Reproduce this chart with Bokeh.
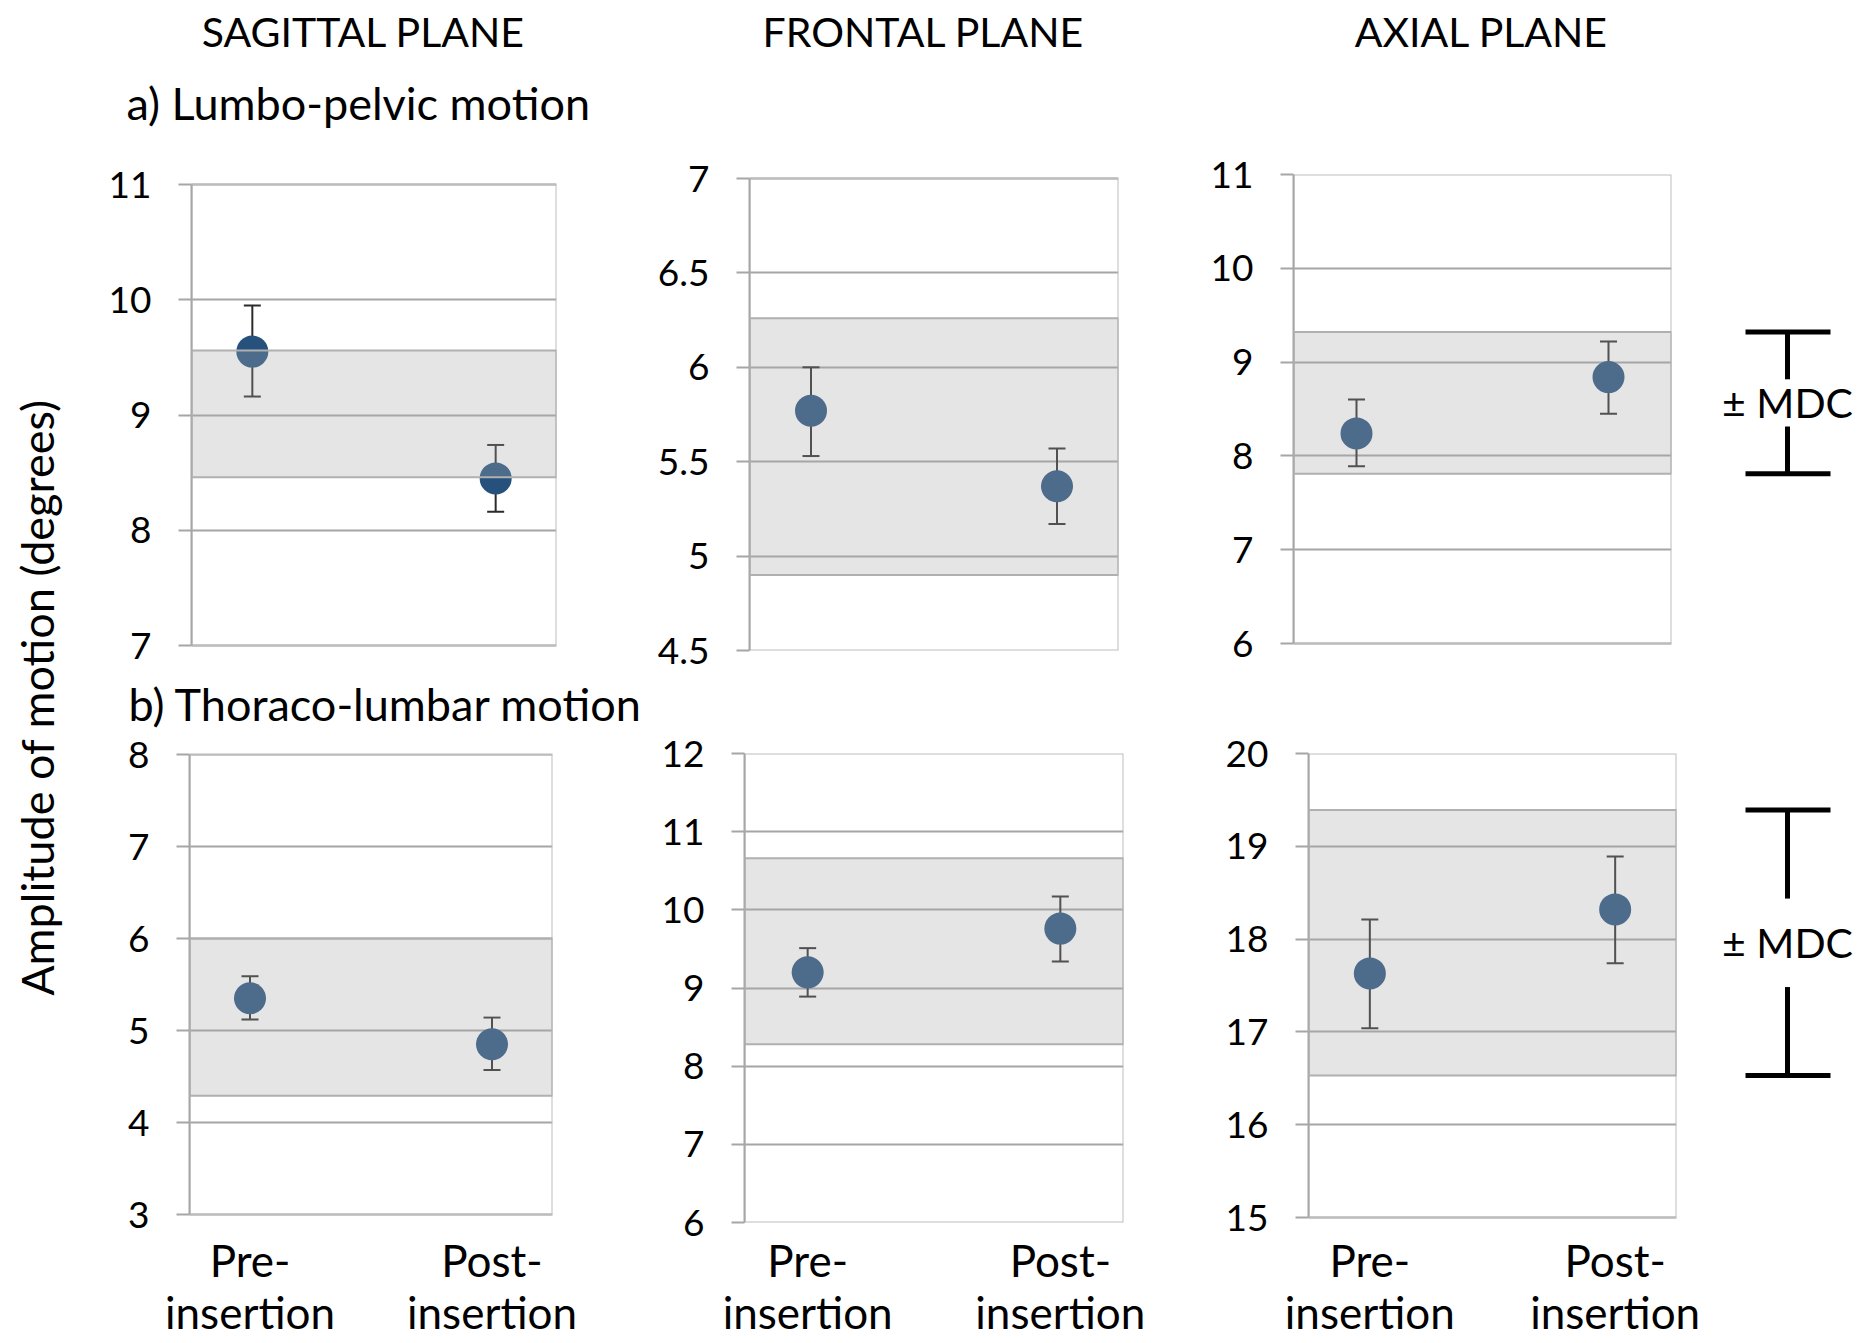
import math
from bokeh.plotting import figure
from bokeh.layouts import row, column
from bokeh.models import (FactorRange, Range1d, FixedTicker, BoxAnnotation,
                          ColumnDataSource, NumeralTickFormatter)
from bokeh.embed import file_html
from bokeh.resources import INLINE
from bokeh.core.properties import value

FONT = "Lato"

# ---------------- texts ----------------
column_titles = ["SAGITTAL PLANE", "FRONTAL PLANE", "AXIAL PLANE"]
row_titles = ["a) Lumbo-pelvic motion", "b) Thoraco-lumbar motion"]
y_title = "Amplitude of motion (degrees)"
mdc_label = "± MDC"
conditions = ["Pre-\ninsertion", "Post-\ninsertion"]

# ---------------- data (degrees) ----------------
# a) Lumbo-pelvic motion
a_sag_mean = [9.55, 8.45]
a_sag_low = [9.16, 8.16]
a_sag_high = [9.95, 8.74]
a_sag_band = [8.46, 9.56]
a_sag_ticks = [7, 8, 9, 10, 11]
a_sag_labels = ["7", "8", "9", "10", "11"]

a_fro_mean = [5.77, 5.37]
a_fro_low = [5.53, 5.17]
a_fro_high = [6.00, 5.57]
a_fro_band = [4.90, 6.26]
a_fro_ticks = [4.5, 5, 5.5, 6, 6.5, 7]
a_fro_labels = ["4.5", "5", "5.5", "6", "6.5", "7"]

a_axi_mean = [8.24, 8.84]
a_axi_low = [7.89, 8.45]
a_axi_high = [8.60, 9.22]
a_axi_band = [7.81, 9.32]
a_axi_ticks = [6, 7, 8, 9, 10, 11]
a_axi_labels = ["6", "7", "8", "9", "10", "11"]

# b) Thoraco-lumbar motion
b_sag_mean = [5.35, 4.85]
b_sag_low = [5.12, 4.57]
b_sag_high = [5.59, 5.14]
b_sag_band = [4.29, 6.00]
b_sag_ticks = [3, 4, 5, 6, 7, 8]
b_sag_labels = ["3", "4", "5", "6", "7", "8"]

b_fro_mean = [9.20, 9.76]
b_fro_low = [8.89, 9.34]
b_fro_high = [9.51, 10.17]
b_fro_band = [8.28, 10.66]
b_fro_ticks = [6, 7, 8, 9, 10, 11, 12]
b_fro_labels = ["6", "7", "8", "9", "10", "11", "12"]

b_axi_mean = [17.63, 18.32]
b_axi_low = [17.04, 17.74]
b_axi_high = [18.21, 18.89]
b_axi_band = [16.53, 19.39]
b_axi_ticks = [15, 16, 17, 18, 19, 20]
b_axi_labels = ["15", "16", "17", "18", "19", "20"]

# ---------------- styles ----------------
MARKER = "#26517d"
GRID = "#a5a5a5"
OUTLINE = "#bdbdbd"
ERR = "#2b2b2b"

# layout of the rows (page pixels): figure top, frame top, frame bottom, figure bottom
ROW_A = dict(fig_top=140, frame_top=174, frame_bottom=650, fig_bottom=676)
ROW_B = dict(fig_top=730, frame_top=753, frame_bottom=1222, fig_bottom=1343)


def panel(width, left, right, rowd, box_top, box_bottom, ticks, labels,
          mean, low, high, band, x_standoff=None):
    # box_top/box_bottom: pixel rows where the highest/lowest tick is drawn
    t0, t1 = ticks[0], ticks[-1]
    s = (box_bottom - box_top) / (t1 - t0)
    y_end = t1 + (box_top - rowd["frame_top"]) / s
    y_start = t0 - (rowd["frame_bottom"] - box_bottom) / s

    p = figure(width=width, height=rowd["fig_bottom"] - rowd["fig_top"],
               title=None,
               x_range=FactorRange(factors=conditions, factor_padding=1.0,
                                   range_padding=0),
               y_range=Range1d(y_start, y_end),
               output_backend="svg", toolbar_location=None,
               min_border_left=left, min_border_right=right,
               min_border_top=rowd["frame_top"] - rowd["fig_top"],
               min_border_bottom=rowd["fig_bottom"] - rowd["frame_bottom"])
    p.background_fill_color = "white"
    p.border_fill_color = "white"
    p.outline_line_color = None

    yax = p.yaxis[0]
    yax.ticker = FixedTicker(ticks=ticks)
    yax.formatter = NumeralTickFormatter(format="0.[0]")
    yax.major_label_overrides = {float(t): l for t, l in zip(ticks, labels)}
    yax.bounds = (t0, t1)
    yax.axis_line_color = "#a6a6a6"
    yax.axis_line_width = 2
    yax.major_tick_line_color = "#a6a6a6"
    yax.major_tick_line_width = 2
    yax.major_tick_out = 13
    yax.major_tick_in = 0
    yax.minor_tick_line_color = None
    yax.major_label_text_font = FONT
    yax.major_label_text_font_size = "37px"
    yax.major_label_text_color = "black"
    yax.major_label_standoff = 27

    p.ygrid.grid_line_color = GRID
    p.ygrid.grid_line_width = 2
    p.xgrid.visible = False

    xax = p.xaxis[0]
    if x_standoff is not None:
        xax.axis_line_color = None
        xax.major_tick_line_color = None
        xax.minor_tick_line_color = None
        xax.major_tick_out = 0
        xax.major_tick_in = 0
        xax.major_label_text_font = FONT
        xax.major_label_text_font_size = "44px"
        xax.major_label_text_color = "black"
        xax.major_label_text_line_height = 1.0
        xax.major_label_standoff = x_standoff
    else:
        xax.visible = False

    # plot-area box (drawn at the tick extents)
    p.add_layout(BoxAnnotation(bottom=t0, top=t1, fill_alpha=0,
                               line_color=OUTLINE, line_alpha=1.0,
                               line_width=2, level="underlay"))

    src = ColumnDataSource(dict(cond=conditions, mean=mean, low=low, high=high))
    p.segment(x0="cond", y0="low", x1="cond", y1="high", source=src,
              line_color=ERR, line_width=2)
    p.scatter(x="cond", y="high", source=src, marker="dash", size=17,
              line_color=ERR, line_width=2)
    p.scatter(x="cond", y="low", source=src, marker="dash", size=17,
              line_color=ERR, line_width=2)
    p.scatter(x="cond", y="mean", source=src, size=32,
              fill_color=MARKER, line_color=None)

    box = BoxAnnotation(bottom=band[0], top=band[1],
                        fill_color="#a8a8a8", fill_alpha=0.3,
                        line_color="#b0b0b0", line_alpha=1.0, line_width=2)
    p.add_layout(box)
    return p


def blank(width, height, xr, yr, top=0, bottom=0):
    p = figure(width=width, height=height, title=None, x_range=xr, y_range=yr,
               x_axis_type=None, y_axis_type=None,
               output_backend="svg", toolbar_location=None,
               min_border_left=0, min_border_right=0,
               min_border_top=top, min_border_bottom=bottom)
    p.outline_line_color = None
    p.grid.visible = False
    p.background_fill_color = "white"
    p.border_fill_color = "white"
    return p


# ---------------- panels ----------------
A1 = panel(550, 91, 94, ROW_A, 184, 645, a_sag_ticks, a_sag_labels,
           a_sag_mean, a_sag_low, a_sag_high, a_sag_band)
A2 = panel(550, 99, 82, ROW_A, 178, 650, a_fro_ticks, a_fro_labels,
           a_fro_mean, a_fro_low, a_fro_high, a_fro_band)
A3 = panel(515, 93, 44, ROW_A, 174, 643, a_axi_ticks, a_axi_labels,
           a_axi_mean, a_axi_low, a_axi_high, a_axi_band)

B1 = panel(550, 89, 98, ROW_B, 754, 1214, b_sag_ticks, b_sag_labels,
           b_sag_mean, b_sag_low, b_sag_high, b_sag_band, x_standoff=11)
B2 = panel(550, 94, 77, ROW_B, 753, 1222, b_fro_ticks, b_fro_labels,
           b_fro_mean, b_fro_low, b_fro_high, b_fro_band, x_standoff=11)
B3 = panel(515, 108, 39, ROW_B, 753, 1217, b_axi_ticks, b_axi_labels,
           b_axi_mean, b_axi_low, b_axi_high, b_axi_band, x_standoff=11)


def mdc_fig(rowd, yr, band):
    p = blank(145, rowd["fig_bottom"] - rowd["fig_top"], Range1d(1715, 1860), yr,
              rowd["frame_top"] - rowd["fig_top"],
              rowd["fig_bottom"] - rowd["frame_bottom"])
    lo, hi = band
    third = (hi - lo) / 3.0
    p.segment(x0=[1745, 1745], y0=[hi, lo], x1=[1830, 1830], y1=[hi, lo],
              line_color="black", line_width=5)
    p.segment(x0=[1787, 1787], y0=[hi, lo], x1=[1787, 1787],
              y1=[hi - third, lo + third], line_color="black", line_width=5)
    p.text(x=[1787], y=[(hi + lo) / 2.0], text=[mdc_label],
           text_align="center", text_baseline="middle",
           text_font=value(FONT), text_font_size="41px", text_color="black")
    return p


mdcA = mdc_fig(ROW_A, A3.y_range, a_axi_band)
mdcB = mdc_fig(ROW_B, B3.y_range, b_axi_band)

# ---------------- text strips ----------------
header = blank(1860, 140, Range1d(0, 1860), Range1d(-140, 0))
header.text(x=[363, 923, 1481], y=[-31, -31, -31], text=column_titles,
            text_align="center", text_baseline="middle",
            text_font=value(FONT), text_font_size="41px", text_color="black")
header.text(x=[126], y=[-102], text=[row_titles[0]],
            text_align="left", text_baseline="middle",
            text_font=value(FONT), text_font_size="45px", text_color="black")

strip_top = ROW_A["fig_bottom"]
strip_bottom = ROW_B["fig_top"]
strip = blank(1760, strip_bottom - strip_top, Range1d(100, 1860),
              Range1d(-strip_bottom, -strip_top))
strip.text(x=[128], y=[-703], text=[row_titles[1]],
           text_align="left", text_baseline="middle",
           text_font=value(FONT), text_font_size="45px", text_color="black")

ylab = blank(100, 1203, Range1d(0, 100), Range1d(-1343, -140))
ylab.text(x=[36], y=[-697], text=[y_title], angle=math.pi / 2,
          text_align="center", text_baseline="middle",
          text_font=value(FONT), text_font_size="45px", text_color="black")

layout = column(
    header,
    row(ylab,
        column(row(A1, A2, A3, mdcA),
               strip,
               row(B1, B2, B3, mdcB))),
)

open("out.html", "w").write(file_html(layout, INLINE))
